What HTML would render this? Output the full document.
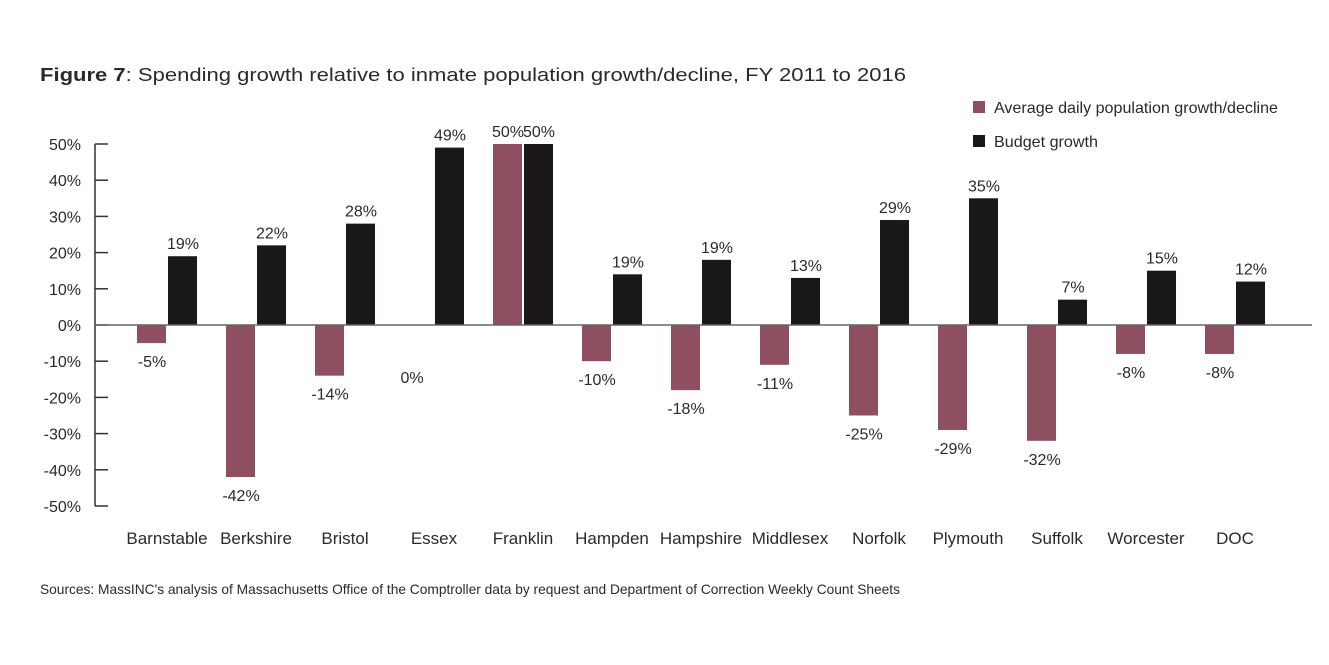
<!DOCTYPE html>
<html><head><meta charset="utf-8"><style>
body{margin:0;background:#fff;}
svg text{font-family:"Liberation Sans",sans-serif;fill:#2a2a2a;}
</style></head><body>
<svg width="1329" height="660" xmlns="http://www.w3.org/2000/svg">
<text x="40" y="81" font-size="18" textLength="866" lengthAdjust="spacingAndGlyphs"><tspan font-weight="bold">Figure 7</tspan>: Spending growth relative to inmate population growth/decline, FY 2011 to 2016</text>
<rect x="973" y="101" width="12" height="12" fill="#8e5060"/>
<text x="994" y="113" font-size="16" textLength="284" lengthAdjust="spacingAndGlyphs">Average daily population growth/decline</text>
<rect x="973" y="135" width="12" height="12" fill="#1a1718"/>
<text x="994" y="147" font-size="16" textLength="104" lengthAdjust="spacingAndGlyphs">Budget growth</text>
<g id="plot"></g>
<text x="40" y="594" font-size="14" textLength="860" lengthAdjust="spacingAndGlyphs">Sources: MassINC's analysis of Massachusetts Office of the Comptroller data by request and Department of Correction Weekly Count Sheets</text>
</svg>
<script>
const categories=["Barnstable","Berkshire","Bristol","Essex","Franklin","Hampden","Hampshire","Middlesex","Norfolk","Plymouth","Suffolk","Worcester","DOC"];
const popValues=[-5,-42,-14,0,50,-10,-18,-11,-25,-29,-32,-8,-8];
const budgetValues=[19,22,28,49,50,14,18,13,29,35,7,15,12];
const popLabels=["-5%","-42%","-14%","0%","50%","-10%","-18%","-11%","-25%","-29%","-32%","-8%","-8%"];
const budgetLabels=["19%","22%","28%","49%","50%","19%","19%","13%","29%","35%","7%","15%","12%"];
const yTicks=[50,40,30,20,10,0,-10,-20,-30,-40,-50];
const yTickLabels=["50%","40%","30%","20%","10%","0%","-10%","-20%","-30%","-40%","-50%"];
const NS="http://www.w3.org/2000/svg";
const g=document.getElementById('plot');
const y=v=>325-v*3.62;
const xc=i=>167+i*89;
function mk(t,a){const e=document.createElementNS(NS,t);for(const k in a)e.setAttribute(k,a[k]);g.appendChild(e);return e;}
const ax=mk('line',{x1:95,x2:95,y1:y(50),y2:y(-50),stroke:'#333','stroke-width':1.5});


yTicks.forEach((v,i)=>{
  const t=mk('line',{x1:95,x2:108,y1:y(v),y2:y(v),stroke:'#333','stroke-width':1.5});
  
  
  const l=mk('text',{x:81,y:y(v)+6,'font-size':16,'text-anchor':'end'});
  l.textContent=yTickLabels[i];
  
  
});
categories.forEach((c,i)=>{
  const cx=xc(i);
  const pv=popValues[i],bv=budgetValues[i];
  const pr=mk('rect',{x:cx-30,width:29,y:Math.min(y(pv),y(0)),height:Math.abs(y(pv)-y(0)),fill:'#8e5060'});
  
  
  const br=mk('rect',{x:cx+1,width:29,y:Math.min(y(bv),y(0)),height:Math.abs(y(bv)-y(0)),fill:'#1a1718'});
  
  
  let py=pv<0?y(pv)+24:y(pv)-7;
  if(pv===0)py=y(0)+58;
  const pl=mk('text',{x:pv===0?cx-22:cx-15,y:py,'font-size':16,'text-anchor':'middle'});
  pl.textContent=popLabels[i];
  
  
  const bl=mk('text',{x:cx+16,y:y(bv)-7,'font-size':16,'text-anchor':'middle'});
  bl.textContent=budgetLabels[i];
  
  
  const cl=mk('text',{x:cx,y:544,'font-size':17,'text-anchor':'middle'});
  cl.textContent=c;
  
  
});
const zl=mk('line',{x1:95,x2:1312,y1:y(0),y2:y(0),stroke:'#666','stroke-width':1.5});


</script>
</body></html>
